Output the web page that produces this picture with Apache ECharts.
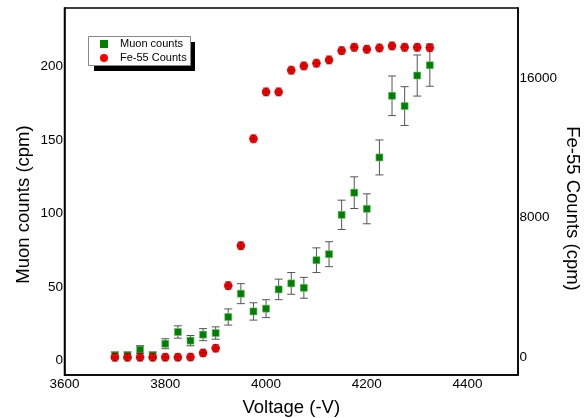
<!DOCTYPE html>
<html>
<head>
<meta charset="utf-8">
<script src="https://cdn.jsdelivr.net/npm/echarts@6/dist/echarts.min.js"></script>
<style>html,body{margin:0;padding:0;background:#fff}#c{width:584px;height:418px}</style>
</head>
<body>
<div id="c"></div>
<script>
const voltage = [3700,3725,3750,3775,3800,3825,3850,3875,3900,3925,3950,3975,4000,4025,4050,4075,4100,4125,4150,4175,4200,4225,4250,4275,4300,4325];
const muonCounts = [3.4,3.4,7.3,3.4,11.3,19.3,13.4,17.5,18.6,29.5,45.4,33.3,35.2,48.3,52.4,49.4,68.2,72.3,99.1,114.2,103.2,138.2,180.2,173.2,194,201];
const muonErr = [2.3,2.3,2.7,2.3,3.4,4.2,3.5,4.1,4.2,5.5,6.8,5.9,6.1,7.0,7.4,7.1,8.4,8.5,10.0,10.8,10.2,11.9,13.5,13.2,14.0,14.3];
const feCounts = [10,12,15,15,18,20,25,263,531,4114,6400,12514,15200,15200,16440,16686,16840,17030,17560,17750,17640,17714,17830,17750,17750,17730];
const feErr = [220,220,220,220,220,220,220,220,220,230,230,230,230,230,230,230,230,230,230,230,230,230,230,230,230,230];
const voltErr = [8,8,8,8,8,8,8,8,8,8,8,8,8,8,8,8,8,8,8,8,8,8,8,8,8,8];
const xTicks = [3600,3800,4000,4200,4400];
const muonTicks = [0,50,100,150,200];
const feTicks = [0,8000,16000];

const FONT = 'Liberation Sans, Arial, sans-serif';
const chart = echarts.init(document.getElementById('c'), null, {renderer:'canvas'});
const plain = v => String(v);

function errBars(name, yIdx, xs, ys, errs, color, capHalf, z) {
  return {
    name: name, type: 'custom', yAxisIndex: yIdx, z: z, silent: true,
    data: xs.map((x,i)=>[x, ys[i]-errs[i], ys[i]+errs[i]]),
    encode: {x:0, y:[1,2]},
    renderItem: function(params, api) {
      const x = api.value(0);
      const lo = api.coord([x, api.value(1)]);
      const hi = api.coord([x, api.value(2)]);
      const st = {stroke: color, lineWidth: 1};
      return {type:'group', children:[
        {type:'line', shape:{x1:lo[0],y1:lo[1],x2:hi[0],y2:hi[1]}, style:st},
        {type:'line', shape:{x1:lo[0]-capHalf,y1:lo[1],x2:lo[0]+capHalf,y2:lo[1]}, style:st},
        {type:'line', shape:{x1:hi[0]-capHalf,y1:hi[1],x2:hi[0]+capHalf,y2:hi[1]}, style:st}
      ]};
    }
  };
}
function xErrBars(name, yIdx, xs, ys, errs, color, z) {
  return {
    name: name, type: 'custom', yAxisIndex: yIdx, z: z, silent: true,
    data: xs.map((x,i)=>[x-errs[i], x+errs[i], ys[i]]),
    encode: {x:[0,1], y:2},
    renderItem: function(params, api) {
      const a = api.coord([api.value(0), api.value(2)]);
      const b = api.coord([api.value(1), api.value(2)]);
      return {type:'line', shape:{x1:a[0],y1:a[1],x2:b[0],y2:b[1]}, style:{stroke:color, lineWidth:1}};
    }
  };
}

const option = {
  animation: false,
  backgroundColor: '#fff',
  textStyle: {fontFamily: FONT},
  grid: {left: 64.5, right: 66, top: 8, bottom: 43, outerBoundsMode: 'none', containLabel: false,
         show: true, borderColor: '#000', borderWidth: 1.5, backgroundColor: 'transparent'},
  graphic: [
    {type: 'rect', left: 94, top: 42, z: 90, silent: true, shape: {width: 101, height: 29}, style: {fill: '#000'}},
    {type: 'rect', left: 88, top: 36, z: 91, silent: true, shape: {width: 102, height: 29}, style: {fill: '#fff', stroke: '#888', lineWidth: 1}}
  ],
  legend: {
    orient: 'vertical', left: 88, top: 36, z: 100,
    data: ['Muon counts','Fe-55 Counts'],
    itemWidth: 8, itemHeight: 8, itemGap: 2,
    padding: [2, 5, 2, 12],
    itemStyle: {borderWidth: 0},
    textStyle: {fontFamily: FONT, fontSize: 11, color: '#000', lineHeight: 12, padding: [0,0,0,7]}
  },
  xAxis: {
    type: 'value', min: 3600, max: 4500,
    name: 'Voltage (-V)', nameLocation: 'middle', nameGap: 23, nameMoveOverlap: false,
    nameTextStyle: {fontFamily: FONT, fontSize: 18.5, color: '#000'},
    axisLine: {show: true, onZero: false, lineStyle: {color: '#000', width: 1.5}},
    axisTick: {show: false},
    splitLine: {show: false},
    axisLabel: {customValues: xTicks, formatter: plain, fontFamily: FONT, fontSize: 13.5, color: '#000', margin: 2}
  },
  yAxis: [{
    type: 'value', min: -10, max: 240, position: 'left',
    name: 'Muon counts (cpm)', nameLocation: 'middle', nameGap: 31, nameRotate: 90, nameMoveOverlap: false,
    nameTextStyle: {fontFamily: FONT, fontSize: 18.5, color: '#000', padding: [0, 26, 0, 0]},
    axisLine: {show: true, onZero: false, lineStyle: {color: '#000', width: 1.5}},
    axisTick: {show: false},
    splitLine: {show: false},
    axisLabel: {customValues: muonTicks, formatter: plain, fontFamily: FONT, fontSize: 13.5, color: '#000', margin: 1.5}
  }, {
    type: 'value', min: -1000, max: 20000, position: 'right',
    name: 'Fe-55 Counts (cpm)', nameLocation: 'middle', nameGap: 45, nameRotate: -90, nameMoveOverlap: false,
    nameTextStyle: {fontFamily: FONT, fontSize: 18.5, color: '#000', padding: [0, 0, 0, 34]},
    axisLine: {show: true, onZero: false, lineStyle: {color: '#000', width: 1.5}},
    axisTick: {show: false},
    splitLine: {show: false},
    axisLabel: {customValues: feTicks, formatter: plain, fontFamily: FONT, fontSize: 13.5, color: '#000', margin: 1.5}
  }],
  series: [
    errBars('muonErr', 0, voltage, muonCounts, muonErr, '#555', 4, 2),
    {
      name: 'Muon counts', type: 'scatter', yAxisIndex: 0, z: 3,
      symbol: 'rect', symbolSize: 7,
      itemStyle: {color: '#008000', borderColor: '#6fb86f', borderWidth: 0.6, opacity: 1},
      data: voltage.map((v,i)=>[v, muonCounts[i]])
    },
    {
      name: 'Fe-55 Counts', type: 'scatter', yAxisIndex: 1, z: 4,
      symbol: 'circle', symbolSize: 8,
      itemStyle: {color: '#ff0000', borderColor: '#dd0000', borderWidth: 0.5, opacity: 1},
      data: voltage.map((v,i)=>[v, feCounts[i]])
    },
    errBars('feErr', 1, voltage, feCounts, feErr, 'rgba(110,0,0,0.55)', 3, 5),
    xErrBars('feXErr', 1, voltage, feCounts, voltErr, 'rgba(110,0,0,0.55)', 5)
  ]
};
chart.setOption(option);
</script>
</body>
</html>
